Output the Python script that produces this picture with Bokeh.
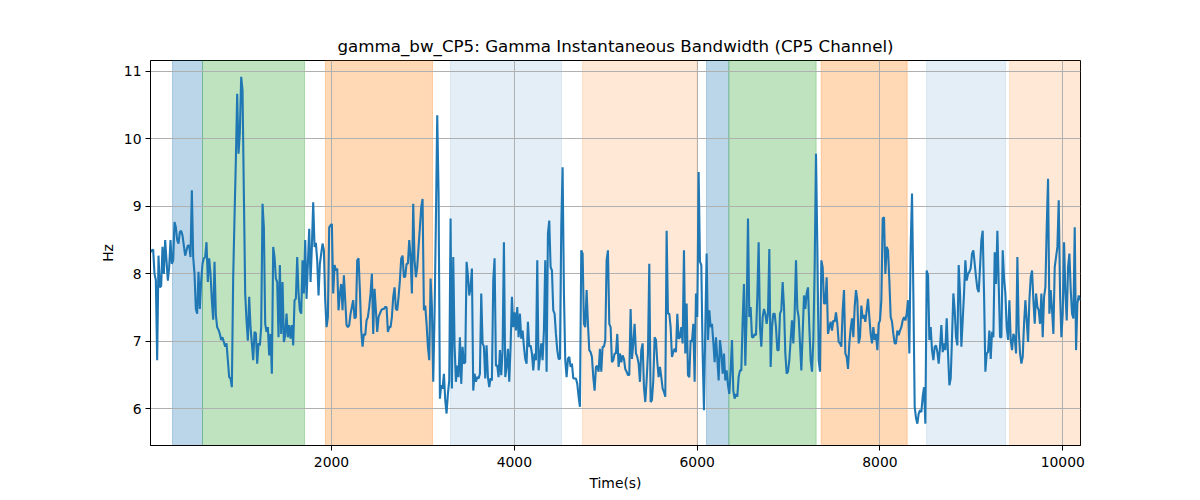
import numpy as np
from bokeh.plotting import figure
from bokeh.models import Range1d, FixedTicker
from bokeh.embed import file_html
from bokeh.resources import INLINE

# ---- data ----
t_start = 20.0       # seconds
t_step = 14.59       # sampling interval, seconds

bw_part1 = [
    8.32, 8.35, 8.36, 8.00, 7.91, 6.72, 8.27, 7.80, 7.82, 8.40,
    8.00, 8.50, 8.20, 7.90, 8.10, 8.50, 8.15, 8.20, 8.77, 8.69,
    8.50, 8.45, 8.62, 8.64, 8.57, 8.42, 8.27, 8.35, 8.42, 8.42,
    8.25, 9.24, 8.25, 8.00, 7.48, 7.41, 8.03, 7.48, 7.90, 8.15,
    8.23, 8.25, 8.47, 7.88, 8.23, 8.00, 7.61, 7.32, 8.18, 7.39,
    7.21, 7.17, 7.11, 7.02, 7.06, 6.99, 6.92, 6.97, 6.72, 6.47,
    6.45, 6.32, 7.95, 8.84, 9.68, 10.67, 9.78, 10.10, 10.92, 10.72,
    9.19, 7.71, 7.31, 7.01, 7.66, 7.21, 6.97, 6.72, 7.14, 7.12,
    6.67, 6.97, 6.94, 7.21, 9.04, 8.69, 7.26, 7.14, 7.21, 6.79,
    7.11, 6.52, 8.40, 8.25, 7.93, 7.88, 7.06, 8.13, 7.11, 7.88,
    6.99, 7.09, 7.41, 7.06, 7.24, 7.04, 7.24, 6.94, 7.61, 7.63,
    8.25, 7.71, 7.46, 7.41, 8.20, 7.71, 8.50,
]
bw_part2 = [
    7.63, 8.15, 8.67, 7.88, 8.40, 9.06, 8.40, 8.46, 8.20, 7.68,
    8.15, 8.30, 8.45, 8.35, 7.61, 7.21, 7.36, 8.69, 8.72, 8.74,
    7.71, 8.13, 8.05, 8.08, 7.46, 7.71, 7.85, 7.46, 7.98, 7.61,
    7.24, 7.21, 7.24, 7.41, 7.51, 7.61, 7.34, 7.36, 8.20, 8.23,
    7.76, 7.16, 6.92, 7.11, 7.09, 7.31, 7.36, 7.51, 7.71, 8.00,
    7.11, 7.78, 7.46, 7.14, 7.36, 7.41, 7.46, 7.48, 7.48, 7.51,
    7.51, 7.14, 7.21, 7.21, 7.36, 7.66, 7.80, 7.48, 7.46, 7.66,
    7.90, 8.23, 8.27, 7.95, 7.96, 8.15, 8.15, 8.50, 8.25, 7.71,
    9.04, 8.20, 7.95, 8.10, 8.40, 8.69, 8.99, 9.11, 7.46, 7.53,
    7.26, 6.92, 6.72, 7.93, 7.51, 6.40, 7.41, 8.79, 10.35, 9.19,
    6.15, 6.35, 6.30, 6.52, 6.13, 5.93, 6.22, 6.42, 8.82, 6.30,
    8.25, 6.94, 6.40, 6.64, 6.47, 7.06,
]
bw_part3 = [
    6.37, 6.92, 6.67, 6.69, 8.18, 7.98, 7.68, 7.80, 8.08, 6.27,
    6.52, 6.40, 6.47, 6.45, 6.52, 7.71, 6.97, 6.92, 6.45, 6.94,
    6.47, 6.32, 6.45, 6.42, 7.90, 8.23, 6.64, 6.64, 6.47, 6.87,
    6.50, 6.87, 8.47, 6.47, 6.62, 6.89, 6.40, 6.92, 7.66, 7.21,
    7.43, 7.16, 7.51, 7.06, 7.41, 7.04, 7.16, 6.92, 6.74, 6.67,
    7.29, 6.92, 6.94, 6.82, 6.57, 6.82, 6.72, 8.20, 6.57, 6.77,
    6.97, 6.72, 7.16, 8.20, 6.55, 8.60, 8.79, 8.10, 8.05, 7.46,
    7.41, 7.11, 6.87, 6.74, 6.74, 8.69, 9.58, 7.71, 6.72, 6.47,
    6.74, 6.77, 6.62, 6.67, 6.45, 6.45, 6.45, 6.37, 6.18, 6.03,
    8.35, 8.30, 7.26, 7.21, 7.76, 7.26, 6.87, 6.84, 6.77, 6.47,
    6.27, 6.62, 6.64, 6.55, 6.89, 6.55, 6.92, 6.92, 7.02, 8.20,
    8.35, 7.26, 7.21, 6.69, 6.72, 6.82,
]
bw_part4 = [
    6.82, 7.11, 6.62, 6.82, 6.69, 6.79, 6.74, 6.59, 6.55, 6.50,
    6.50, 7.48, 6.74, 6.97, 7.26, 6.82, 6.77, 6.67, 6.40, 6.87,
    6.97, 6.32, 6.10, 6.42, 6.82, 8.15, 6.10, 6.13, 6.42, 7.06,
    7.02, 6.69, 6.47, 6.62, 6.47, 6.30, 6.25, 6.18, 8.64, 7.41,
    7.41, 7.21, 6.77, 6.84, 6.89, 6.84, 7.41, 7.04, 7.06, 7.21,
    6.97, 8.35, 6.82, 7.56, 6.50, 6.47, 7.02, 6.99, 7.26, 6.40,
    7.71, 7.36, 9.51, 8.18, 8.13, 6.82, 5.98, 7.21, 8.30, 7.02,
    7.46, 7.21, 7.26, 6.99, 6.69, 7.06, 6.74, 6.42, 7.02, 6.84,
    6.52, 6.82, 6.42, 6.57, 6.35, 6.22, 6.57, 7.02, 6.27, 6.15,
    6.22, 6.18, 6.47, 6.57, 6.57, 7.31, 7.85, 6.64, 7.41, 8.82,
    7.36, 7.51, 7.06, 7.06, 7.11, 7.09, 7.66, 8.47, 7.21, 6.92,
    7.36, 7.48, 7.41, 7.26, 7.41, 8.37,
]
bw_part5 = [
    6.62, 7.21, 7.41, 7.41, 7.21, 6.87, 6.87, 7.41, 7.46, 7.88,
    7.51, 6.82, 6.52, 6.55, 6.72, 7.02, 7.31, 6.97, 7.41, 8.20,
    7.48, 7.36, 6.97, 6.57, 7.11, 7.68, 7.48, 7.71, 7.80, 7.21,
    6.72, 6.55, 7.02, 8.10, 9.78, 8.40, 6.72, 6.55, 8.20, 8.10,
    7.56, 7.56, 7.95, 7.11, 7.21, 7.29, 7.16, 7.31, 7.29, 7.43,
    7.26, 6.99, 6.97, 6.92, 7.46, 7.76, 6.82, 6.77, 6.59, 6.97,
    7.19, 7.34, 7.06, 7.51, 7.76, 7.61, 6.97, 7.06, 7.53, 7.34,
    7.39, 7.29, 7.46, 7.63, 7.36, 7.11, 6.97, 7.21, 7.02, 7.11,
    6.87, 7.26, 7.31, 7.61, 8.82, 8.84, 8.00, 8.40, 8.35, 7.90,
    7.36, 7.29, 7.11, 6.97, 6.97, 7.16, 7.09, 7.16, 7.21, 7.31,
    7.36, 7.31, 7.41, 7.61, 6.82, 8.40, 9.19, 7.71, 6.03, 5.86,
    5.78, 5.93, 5.98, 5.95, 6.18, 6.32, 5.78,
]
bw_part6 = [
    8.05, 7.98, 7.02, 7.21, 6.87, 6.72, 6.92, 6.94, 6.84, 6.67,
    6.92, 7.24, 6.84, 6.97, 6.87, 7.34, 6.82, 6.35, 6.45, 7.06,
    7.71, 7.46, 7.06, 6.94, 8.13, 7.71, 6.92, 7.31, 7.71, 8.20,
    7.90, 8.00, 8.03, 8.08, 8.30, 8.35, 8.15, 7.95, 7.78, 7.73,
    8.10, 8.50, 8.64, 7.71, 6.55, 6.82, 6.84, 7.16, 6.74, 7.14,
    7.06, 8.32, 7.85, 8.64, 7.85, 7.06, 7.06, 8.35, 7.93, 7.71,
    7.21, 7.02, 7.61, 7.02, 6.87, 7.11, 7.06, 6.82, 8.25, 7.16,
    6.82, 6.67, 6.77, 7.26, 7.61, 7.31, 6.99, 7.61, 7.95, 8.05,
    7.61, 7.26, 7.71, 7.51, 7.46, 7.26, 7.71, 7.06, 7.66, 7.80,
    8.69, 9.41, 7.41, 7.76, 7.46, 7.11, 8.10, 8.25, 8.40, 9.09,
    7.71, 7.06, 7.41, 8.47, 7.71, 7.31, 8.10, 8.30, 7.76, 7.41,
    7.34, 8.69, 6.87, 7.56, 7.68, 7.61,
]

bw_hz = bw_part1 + bw_part2 + bw_part3 + bw_part4 + bw_part5 + bw_part6
time_s = t_start + t_step * np.arange(len(bw_hz))

# shaded segments (start, end in seconds)
span_start = [261, 589, 1934, 3302, 4746, 6103, 6347, 7357, 8510, 9418]
span_end = [589, 1705, 3105, 4516, 5995, 6347, 7302, 8298, 9374, 10400]
span_color = ["#1f77b4", "#2ca02c", "#ff7f0e", "#1f77b4", "#ff7f0e",
              "#1f77b4", "#2ca02c", "#ff7f0e", "#1f77b4", "#ff7f0e"]
span_alpha = [0.3, 0.3, 0.3, 0.12, 0.17, 0.3, 0.3, 0.3, 0.12, 0.17]

x_ticks = [2000, 4000, 6000, 8000, 10000]
y_ticks = [6, 7, 8, 9, 10, 11]

FONT = "DejaVu Sans"

p = figure(width=1200, height=500, output_backend="svg", toolbar_location=None,
           x_range=Range1d(20, 10194), y_range=Range1d(5.456, 11.163),
           min_border_left=150, min_border_right=120,
           min_border_top=60, min_border_bottom=55,
           title="gamma_bw_CP5: Gamma Instantaneous Bandwidth (CP5 Channel)")

p.title.align = "center"
p.title.text_font = FONT
p.title.text_font_size = "16.7px"
p.title.text_font_style = "normal"
p.title.text_color = "black"

for s, e, c, a in zip(span_start, span_end, span_color, span_alpha):
    r = p.quad(left=s, right=e, bottom=-100, top=100, fill_color=c,
               fill_alpha=a, line_color=c, line_alpha=a, line_width=1)
    r.level = "image"

p.line(time_s, bw_hz, line_color="#1f77b4", line_width=2.1)

p.xaxis.ticker = FixedTicker(ticks=x_ticks)
p.yaxis.ticker = FixedTicker(ticks=y_ticks)
for ax in (p.xaxis[0], p.yaxis[0]):
    ax.major_label_text_font = FONT
    ax.major_label_text_font_size = "13.9px"
    ax.major_label_text_color = "black"
    ax.axis_label_text_font = FONT
    ax.axis_label_text_font_size = "13.9px"
    ax.axis_label_text_font_style = "normal"
    ax.axis_label_text_color = "black"
    ax.major_tick_out = 5
    ax.major_tick_in = 0
    ax.minor_tick_line_color = None
    ax.major_tick_line_color = "black"
    ax.axis_line_color = "black"
    ax.axis_label_standoff = 5
p.xaxis.major_label_standoff = 6
p.yaxis.major_label_standoff = 4
p.xaxis.axis_label = "Time(s)"
p.yaxis.axis_label = "Hz"

p.xgrid.grid_line_color = "#b0b0b0"
p.ygrid.grid_line_color = "#b0b0b0"
p.xgrid.grid_line_width = 1
p.ygrid.grid_line_width = 1

p.outline_line_color = "black"
p.outline_line_width = 1
p.outline_line_alpha = 1
p.background_fill_color = "white"
p.border_fill_color = "white"

open("out.html", "w").write(file_html(p, INLINE))
